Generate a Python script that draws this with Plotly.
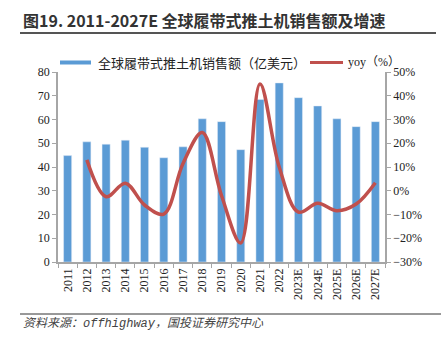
import plotly.graph_objects as go

years = ["2011", "2012", "2013", "2014", "2015", "2016", "2017", "2018", "2019",
         "2020", "2021", "2022", "2023E", "2024E", "2025E", "2026E", "2027E"]
sales = [44.8, 50.6, 49.6, 51.3, 48.3, 43.9, 48.5, 60.3, 59.1,
         47.3, 68.4, 75.4, 69.2, 65.7, 60.3, 57.0, 59.1]
yoy_years = years[1:]
yoy = [13.0, -2.5, 3.2, -6.0, -9.8, 11.5, 24.5, -2.0,
       -22.0, 45.0, 10.0, -9.0, -5.3, -8.4, -5.6, 3.4]

W, H = 441, 343
L, R, T, B = 58, 385, 72, 262

def px(x):
    return (x - L) / (R - L)

def py(y):
    return (B - y) / (B - T)

BLUE = "#5B9BD5"
RED = "#C0504D"
AX = "#A6A6A6"
CJK = "Noto Sans CJK SC"
SERIF = "Liberation Serif"

fig = go.Figure()
fig.add_trace(go.Bar(x=years, y=sales, marker_color=BLUE, width=0.42,
                     name="全球履带式推土机销售额（亿美元）", yaxis="y"))
fig.add_trace(go.Scatter(x=yoy_years, y=yoy, mode="lines",
                         line=dict(color=RED, width=3.5, shape="spline", smoothing=1.0),
                         name="yoy（%）", yaxis="y2"))

fig.update_layout(
    width=W, height=H,
    margin=dict(l=L, r=W - R, t=T, b=H - B),
    paper_bgcolor="white", plot_bgcolor="white",
    showlegend=False,
    xaxis=dict(type="category", showline=True, linecolor=AX, linewidth=1.5,
               ticks="outside", tickson="boundaries", ticklen=4, tickcolor=AX,
               tickangle=-90, tickfont=dict(family=SERIF, size=12, color="#222"),
               showgrid=False),
    yaxis=dict(range=[0, 80], dtick=10, showline=True, linecolor=AX, linewidth=1.5,
               ticks="outside", ticklen=4, tickcolor=AX, showgrid=False, zeroline=False,
               tickfont=dict(family=SERIF, size=12, color="#222")),
    yaxis2=dict(range=[-30, 50], dtick=10, overlaying="y", side="right",
                showline=True, linecolor=AX, linewidth=1.5, ticks="outside",
                ticklen=4, tickcolor=AX, showgrid=False, zeroline=False,
                ticksuffix="%", tickfont=dict(family=SERIF, size=12, color="#222")),
)

shapes = [
    dict(type="line", xref="paper", yref="paper", x0=px(20), x1=px(436), y0=py(33), y1=py(33),
         line=dict(color="#555", width=2)),
    dict(type="line", xref="paper", yref="paper", x0=px(20), x1=px(441), y0=py(314), y1=py(314),
         line=dict(color="#333", width=1)),
    dict(type="rect", xref="paper", yref="paper", x0=px(60), x1=px(91), y0=py(60.5), y1=py(64.5),
         fillcolor=BLUE, line=dict(width=0)),
    dict(type="line", xref="paper", yref="paper", x0=px(310), x1=px(343), y0=py(62.5), y1=py(62.5),
         line=dict(color=RED, width=3)),
]
fig.update_layout(shapes=shapes)

ann = [
    dict(text="<b>图19. 2011-2027E 全球履带式推土机销售额及增速</b>", x=px(21), y=py(20),
         font=dict(family=CJK, size=16, color="#333")),
    dict(text="全球履带式推土机销售额（亿美元）", x=px(96), y=py(62.5),
         font=dict(family=CJK, size=13, color="#222")),
    dict(text="yoy（%）", x=px(346), y=py(62.5),
         font=dict(family=SERIF + ", " + CJK, size=12, color="#222")),
    dict(text="<i>资料来源：offhighway，国投证券研究中心</i>", x=px(21), y=py(323),
         font=dict(family="Liberation Mono, " + CJK, size=12, color="#444")),
]
for a in ann:
    a.update(xref="paper", yref="paper", xanchor="left", yanchor="middle", showarrow=False)
fig.update_layout(annotations=ann)

fig.write_html("out.html")
